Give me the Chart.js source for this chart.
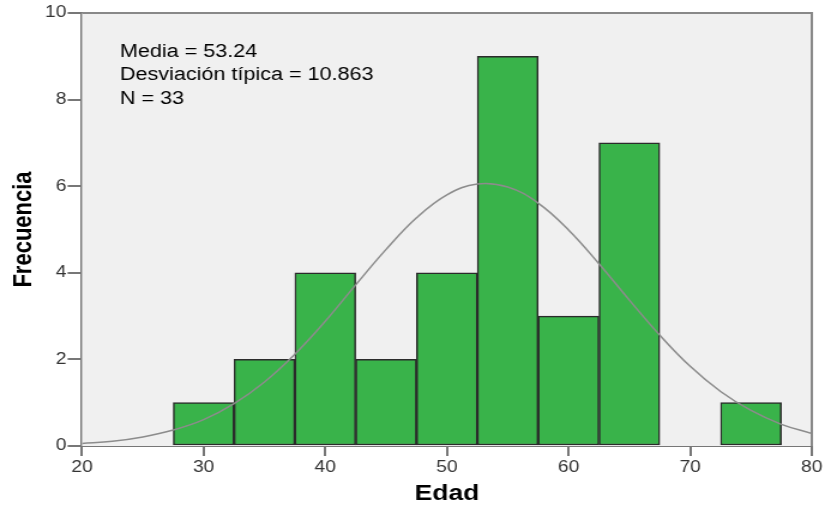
<!DOCTYPE html>
<html>
<head>
<meta charset="utf-8">
<script src="https://cdn.jsdelivr.net/npm/chart.js@4/dist/chart.umd.min.js"></script>
<style>
  html, body { margin: 0; padding: 0; background: #fff; overflow: hidden; }
  /* the original picture is stretched sideways, so draw narrower and stretch */
  #hist { display: block; transform-origin: 0 0; transform: scaleX(1.1991); }
</style>
</head>
<body>
<canvas id="hist" width="688" height="507"></canvas>
<script>
// ---------- DATA ----------
const binCenters = [30, 35, 40, 45, 50, 55, 60, 65, 70, 75];
const frequencies = [1, 2, 4, 2, 4, 9, 3, 7, 0, 1];

// normal curve
const curveX = [20, 22.5, 25, 27.5, 30, 32.5, 35, 37.5, 40, 42.5, 45, 47.5, 50, 52.5, 55, 57.5, 60, 62.5, 65, 67.5, 70, 72.5, 75, 77.5, 80];
const curveY = [0.06, 0.11, 0.21, 0.37, 0.61, 0.98, 1.48, 2.12, 2.88, 3.72, 4.54, 5.27, 5.80, 6.05, 5.98, 5.61, 4.99, 4.21, 3.37, 2.56, 1.84, 1.26, 0.82, 0.50, 0.29];

const statLines = ["Media = 53.24", "Desviación típica = 10.863", "N = 33"];
const xTitle = "Edad";
const yTitle = "Frecuencia";

// ---------- PLUGINS ----------
const plotBox = {
    id: "plotBox",
    beforeDatasetsDraw(chart) {
        const { ctx, chartArea: a } = chart;
        ctx.save();
        ctx.fillStyle = "#f0f0f0";
        ctx.fillRect(a.left, a.top, a.width, a.height);
        ctx.restore();
    },
    afterDatasetsDraw(chart) {
        const { ctx, chartArea: a } = chart;
        ctx.save();
        ctx.strokeStyle = "#888";
        ctx.lineWidth = 2;
        ctx.beginPath();
        ctx.moveTo(a.left, a.top);
        ctx.lineTo(a.right, a.top);
        ctx.lineTo(a.right, a.bottom);
        ctx.stroke();

        ctx.fillStyle = "#000";
        ctx.font = "18px 'Liberation Sans', Arial, sans-serif";
        ctx.textBaseline = "alphabetic";
        statLines.forEach((t, i) => ctx.fillText(t, 100, 56.5 + i * 23.5));
        ctx.restore();
    }
};

// ---------- CHART ----------
const tickFont = { family: "Liberation Sans", size: 16 };
const titleFont = { family: "Liberation Sans", size: 22, weight: "bold" };

new Chart(document.getElementById("hist"), {
    type: "bar",
    data: {
        datasets: [
            {
                type: "line",
                data: curveX.map((x, i) => ({ x: x, y: curveY[i] })),
                borderColor: "#8c8c8c",
                borderWidth: 1.5,
                pointRadius: 0,
                tension: 0.4,
                fill: false,
                order: 0
            },
            {
                type: "bar",
                data: binCenters.map((x, i) => ({ x: x, y: frequencies[i] })),
                backgroundColor: "#39b34a",
                borderColor: "#2b2b2b",
                borderWidth: 1.5,
                borderSkipped: false,
                barPercentage: 1,
                categoryPercentage: 1,
                order: 1
            }
        ]
    },
    options: {
        responsive: false,
        animation: false,
        layout: { padding: { top: 13, right: 11, left: 0, bottom: 0 } },
        plugins: { legend: { display: false }, tooltip: { enabled: false } },
        scales: {
            x: {
                type: "linear",
                min: 20, max: 80,
                offset: false,
                ticks: { stepSize: 10, color: "#333", font: tickFont, padding: 2 },
                grid: { display: true, drawOnChartArea: false, drawTicks: true, tickLength: 10, color: "#777", lineWidth: 2, offset: false },
                border: { display: true, color: "#777", width: 2 },
                title: { display: true, text: xTitle, color: "#000", font: titleFont, padding: { top: 0, bottom: 0 } },
                afterFit(s) { s.height = 61; }
            },
            y: {
                min: 0, max: 10,
                ticks: { stepSize: 2, color: "#333", font: tickFont, padding: 1 },
                grid: { display: true, drawOnChartArea: false, drawTicks: true, tickLength: 12, color: "#777", lineWidth: 2 },
                border: { display: true, color: "#777", width: 2 },
                title: { display: true, text: yTitle, color: "#000", font: titleFont, padding: { top: 7, bottom: 0 } },
                afterFit(s) { s.width = 68.4; }
            }
        }
    },
    plugins: [plotBox]
});
</script>
</body>
</html>
